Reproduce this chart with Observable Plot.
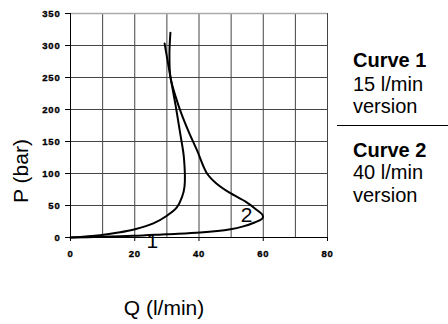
<!DOCTYPE html>
<html>
<head>
<meta charset="utf-8">
<script src="https://cdn.jsdelivr.net/npm/d3@7"></script>
<script src="https://cdn.jsdelivr.net/npm/@observablehq/plot@0.6"></script>
<style>
  html, body { margin: 0; padding: 0; background: #fff; }
  #wrap { position: relative; width: 448px; height: 324px; font-family: "Liberation Sans", Arial, sans-serif; }
  #legend { position: absolute; left: 337px; top: 0; width: 111px; color: #000; }
  .lg { position: absolute; left: 16px; font-size: 20px; white-space: nowrap; line-height: 1; }
  .lg b { font-weight: bold; }
  .sep { position: absolute; left: 0; width: 111px; height: 0; border-top: 1.5px solid #000; }
  g[aria-label$="tick label"] text { font-weight: 700 !important; stroke: #000; stroke-width: 0.35px; letter-spacing: 0.8px; }
</style>
</head>
<body>
<div id="wrap"></div>
<script>
// ---- data ----
const curve1Q = [0, 9.2, 14.9, 20.1, 25.8, 30, 33.1, 34.7, 35.5, 35.3, 34.2, 32.8, 31.1, 29.3];
const curve1P = [0, 3.7, 7.8, 13, 22, 34, 47, 63, 80, 125, 161, 204, 251, 303];
const curve2Q = [0, 9.2, 19.6, 30, 40.4, 49.8, 53.5, 57.3, 59.8, 59.8, 57.5, 54.5, 49.5, 45.5, 42.5, 39.4, 36.8, 34.4, 32.8, 31.1, 30.8, 31.1];
const curve2P = [0, 1, 2.6, 5.2, 7.8, 13, 17, 23.5, 30, 35, 45, 56, 70, 84, 100, 136, 165, 195, 219, 251, 287, 320];
const curveNames = ["1", "2"];
const curveLabelQ = [25.5, 54.8];
const curveLabelP = [-6, 35.5];
const xTicks = [0, 20, 40, 60, 80];
const xGrid = [10, 20, 30, 40, 50, 60, 70, 80];
const yTicks = [0, 50, 100, 150, 200, 250, 300, 350];
const xTitle = "Q (l/min)";
const yTitle = "P (bar)";
const legendTitles = ["Curve 1", "Curve 2"];
const legendLines = [["15 l/min", "version"], ["40 l/min", "version"]];

const rows = [
  ...curve1Q.map((q, i) => ({curve: "1", q, p: curve1P[i]})),
  ...curve2Q.map((q, i) => ({curve: "2", q, p: curve2P[i]}))
];
const labels = curveNames.map((n, i) => ({name: n, q: curveLabelQ[i], p: curveLabelP[i]}));

const tickFont = {fontSize: 9.5, fontWeight: "bold"};

const chart = Plot.plot({
  width: 448,
  height: 324,
  marginLeft: 70,
  marginRight: 121,
  marginTop: 13,
  marginBottom: 87,
  style: {fontFamily: "'Liberation Sans', Arial, sans-serif", background: "#fff"},
  x: {domain: [0, 80]},
  y: {domain: [0, 350]},
  marks: [
    Plot.gridX(xGrid, {stroke: "#444", strokeOpacity: 1}),
    Plot.gridY(yTicks.filter(d => d > 0 && d < 350), {stroke: "#444", strokeOpacity: 1}),
    Plot.gridY([350], {stroke: "#aaa", strokeOpacity: 1, strokeWidth: 1.5}),
    Plot.ruleX([0], {stroke: "#000"}),
    Plot.ruleY([0], {stroke: "#000"}),
    Plot.axisY(yTicks, {tickSize: 5, tickPadding: 5, ...tickFont, label: null, stroke: "#000"}),
    Plot.axisX(xTicks, {tickSize: 4, tickPadding: 9, ...tickFont, label: null, stroke: "#000"}),
    Plot.line(rows, {x: "q", y: "p", z: "curve", stroke: "#000", strokeWidth: 2, curve: "catmull-rom"}),
    Plot.text(labels, {x: "q", y: "p", text: "name", fontSize: 21, fill: "#000"})
  ]
});

const wrap = document.getElementById("wrap");
wrap.appendChild(chart);

// axis titles
const svg = d3.select(chart);
svg.append("text")
  .attr("x", 164).attr("y", 315)
  .attr("text-anchor", "middle")
  .attr("font-size", 21)
  .attr("fill", "#000")
  .text(xTitle);
svg.append("text")
  .attr("transform", "translate(28,171) rotate(-90)")
  .attr("text-anchor", "middle")
  .attr("font-size", 21)
  .attr("fill", "#000")
  .text(yTitle);

// legend (HTML)
const legend = document.createElement("div");
legend.id = "legend";
const tops = [[50, 74, 96], [140, 162, 185]];
legendTitles.forEach((t, i) => {
  const h = document.createElement("div");
  h.className = "lg";
  h.style.top = tops[i][0] + "px";
  h.innerHTML = "<b></b>";
  h.firstChild.textContent = t;
  legend.appendChild(h);
  legendLines[i].forEach((s, j) => {
    const d = document.createElement("div");
    d.className = "lg";
    d.style.top = tops[i][j + 1] + "px";
    d.textContent = s;
    legend.appendChild(d);
  });
});
const sep = document.createElement("div");
sep.className = "sep";
sep.style.top = "125px";
legend.appendChild(sep);
wrap.appendChild(legend);
</script>
</body>
</html>
